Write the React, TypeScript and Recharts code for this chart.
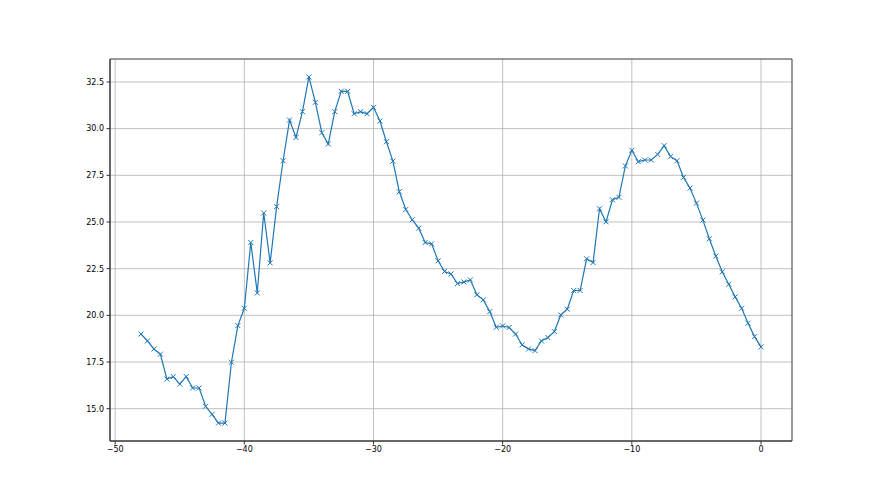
import {
  LineChart,
  Line,
  XAxis,
  YAxis,
  CartesianGrid,
  ReferenceArea,
} from "recharts";

// x runs from -48 to 0 in half steps
const xs = [
  -48, -47.5, -47, -46.5, -46, -45.5, -45, -44.5, -44, -43.5, -43, -42.5, -42,
  -41.5, -41, -40.5, -40, -39.5, -39, -38.5, -38, -37.5, -37, -36.5, -36, -35.5,
  -35, -34.5, -34, -33.5, -33, -32.5, -32, -31.5, -31, -30.5, -30, -29.5, -29,
  -28.5, -28, -27.5, -27, -26.5, -26, -25.5, -25, -24.5, -24, -23.5, -23, -22.5,
  -22, -21.5, -21, -20.5, -20, -19.5, -19, -18.5, -18, -17.5, -17, -16.5, -16,
  -15.5, -15, -14.5, -14, -13.5, -13, -12.5, -12, -11.5, -11, -10.5, -10, -9.5,
  -9, -8.5, -8, -7.5, -7, -6.5, -6, -5.5, -5, -4.5, -4, -3.5, -3, -2.5, -2, -1.5,
  -1, -0.5, 0,
];

const ys = [
  19.0, 18.63, 18.2, 17.92, 16.59, 16.72, 16.32, 16.72, 16.11, 16.11, 15.13,
  14.7, 14.23, 14.23, 17.49, 19.45, 20.38, 23.9, 21.2, 25.48, 22.81, 25.82,
  28.28, 30.46, 29.53, 30.91, 32.77, 31.41, 29.78, 29.18, 30.91, 32.0, 32.0,
  30.8, 30.91, 30.8, 31.14, 30.41, 29.3, 28.26, 26.62, 25.67, 25.12, 24.67,
  23.9, 23.83, 22.92, 22.35, 22.22, 21.7, 21.79, 21.9, 21.1, 20.83, 20.2, 19.36,
  19.43, 19.35, 19.0, 18.42, 18.2, 18.11, 18.63, 18.81, 19.13, 20.02, 20.33,
  21.33, 21.33, 23.03, 22.83, 25.71, 25.01, 26.19, 26.32, 28.0, 28.84, 28.23,
  28.32, 28.32, 28.62, 29.09, 28.5, 28.28, 27.39, 26.82, 26.01, 25.1, 24.1,
  23.17, 22.33, 21.67, 20.99, 20.38, 19.58, 18.86, 18.31,
];

const xTicks = [-50, -40, -30, -20, -10, 0];
const yTicks = [15, 17.5, 20, 22.5, 25, 27.5, 30, 32.5];

const xDomain = [-50.4, 2.4];
const yDomain = [13.27, 33.73];

const data = xs.map((x, i) => ({ x, y: ys[i] }));

const BLUE = "#1f77b4";

function XMark(props: any) {
  const { cx, cy } = props;
  if (cx == null || cy == null) return null;
  const r = 2.5;
  return (
    <g>
      <line x1={cx - r} y1={cy - r} x2={cx + r} y2={cy + r} stroke={BLUE} strokeWidth={1} />
      <line x1={cx - r} y1={cy + r} x2={cx + r} y2={cy - r} stroke={BLUE} strokeWidth={1} />
    </g>
  );
}

const tickStyle = { fontSize: 8, fill: "#000", fontFamily: "DejaVu Sans" };
const fmtX = (v: number) => String(v).replace("-", "\u2212");

export default function App() {
  return (
    <div style={{ position: "absolute", left: 0, top: 0, width: 880, height: 495, background: "#fff" }}>
      <LineChart
        width={880}
        height={495}
        data={data}
        margin={{ top: 59, right: 88, bottom: 24, left: 50 }}
      >
        <CartesianGrid stroke="#b0b0b0" strokeWidth={0.8} />
        <XAxis
          dataKey="x"
          type="number"
          domain={xDomain}
          ticks={xTicks}
          height={30}
          tick={tickStyle}
          tickSize={3.5}
          tickMargin={2}
          tickFormatter={fmtX}
          stroke="#333"
          tickLine={{ stroke: "#333" }}
          allowDataOverflow
        />
        <YAxis
          dataKey="y"
          type="number"
          domain={yDomain}
          ticks={yTicks}
          width={60}
          tick={tickStyle}
          tickSize={3.5}
          tickMargin={2.5}
          tickFormatter={(v: number) => v.toFixed(1)}
          stroke="#333"
          tickLine={{ stroke: "#333" }}
          allowDataOverflow
        />
        <ReferenceArea
          x1={xDomain[0]}
          x2={xDomain[1]}
          y1={yDomain[0]}
          y2={yDomain[1]}
          fill="none"
          stroke="#333"
          strokeWidth={0.8}
        />
        <Line
          dataKey="y"
          stroke={BLUE}
          strokeWidth={1.2}
          dot={<XMark />}
          activeDot={false}
          isAnimationActive={false}
        />
      </LineChart>
    </div>
  );
}
